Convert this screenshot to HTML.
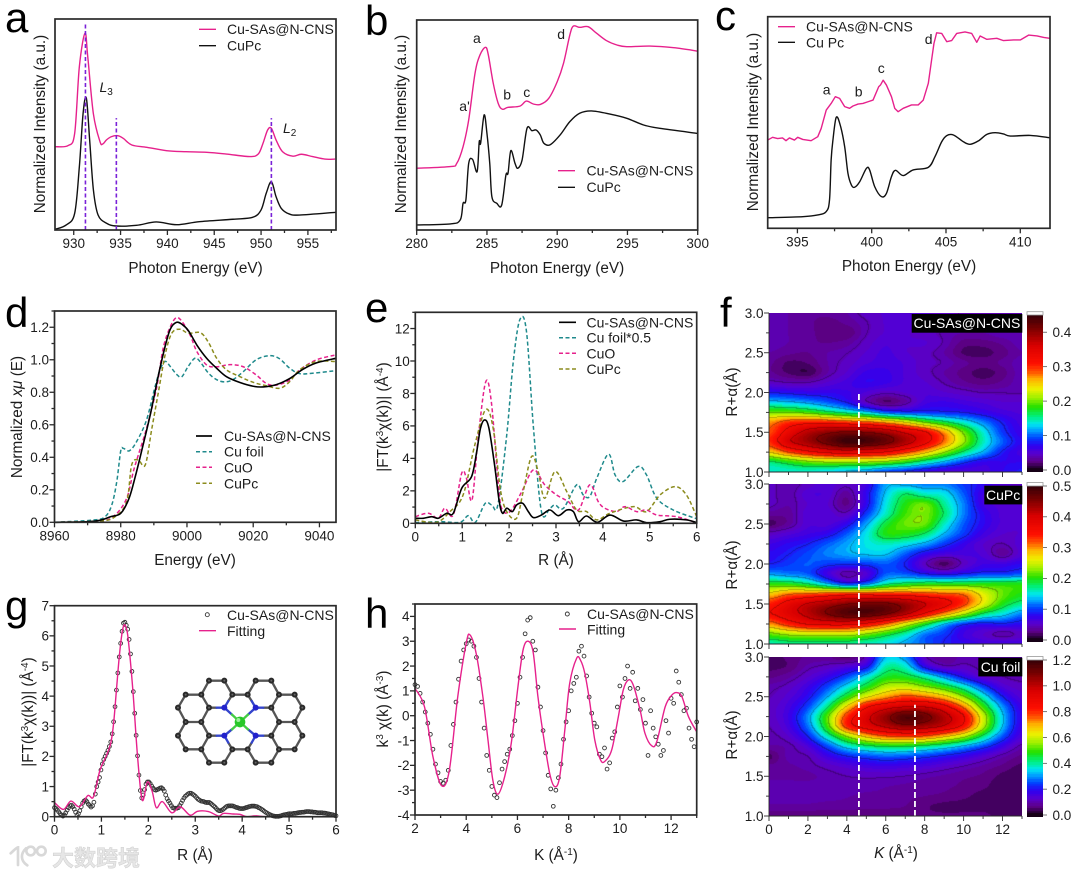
<!DOCTYPE html>
<html lang="en">
<head>
<meta charset="utf-8">
<title>Spectroscopy figure</title>
<style>
html,body{margin:0;padding:0;background:#fff}
#stage{position:relative;width:1080px;height:877px;overflow:hidden;background:#fff}
#stage canvas{position:absolute;display:block}
#figure{position:absolute;left:0;top:0}
text{font-family:"Liberation Sans","Noto Sans CJK SC",sans-serif;fill:#1c1c1c}
.tick{font-size:13.5px}
.title{font-size:15.3px}
.leg{font-size:14px}
.note{font-size:14px}
.big{font-size:42px;fill:#000}
</style>
</head>
<body>
<div id="stage">
<canvas id="hm1" width="253" height="159" style="left:769px;top:313px"></canvas>
<canvas id="hm2" width="253" height="160" style="left:769px;top:484px"></canvas>
<canvas id="hm3" width="253" height="159" style="left:769px;top:657px"></canvas>
<canvas id="cb1" width="16" height="157" style="left:1027px;top:315px"></canvas>
<canvas id="cb2" width="16" height="156" style="left:1027px;top:486px"></canvas>
<canvas id="cb3" width="16" height="157" style="left:1027px;top:660px"></canvas>
<svg id="figure" width="1080" height="877" viewBox="0 0 1080 877" xmlns="http://www.w3.org/2000/svg">

<!-- panel letters -->
<text class="big" x="5" y="32">a</text>
<text class="big" x="365" y="35">b</text>
<text class="big" x="715" y="30">c</text>
<text class="big" x="5" y="327">d</text>
<text class="big" x="365" y="322">e</text>
<text class="big" x="720" y="327">f</text>
<text class="big" x="5" y="620">g</text>
<text class="big" x="365" y="628">h</text>

<!-- axis titles -->
<text class="title" x="195.5" y="273" text-anchor="middle">Photon Energy (eV)</text>
<text class="title" x="557" y="273" text-anchor="middle">Photon Energy (eV)</text>
<text class="title" x="909" y="271" text-anchor="middle">Photon Energy (eV)</text>
<text class="title" x="195" y="565" text-anchor="middle">Energy (eV)</text>
<text class="title" x="556" y="565" text-anchor="middle">R (Å)</text>
<text class="title" x="195" y="860" text-anchor="middle">R (Å)</text>
<text class="title" x="556" y="860" text-anchor="middle">K (Å<tspan dy="-5" font-size="10">-1</tspan><tspan dy="5">)</tspan></text>
<text class="title" x="896" y="858" text-anchor="middle"><tspan font-style="italic">K</tspan> (Å<tspan dy="-5" font-size="10">-1</tspan><tspan dy="5">)</tspan></text>

<text class="title" transform="translate(45,124) rotate(-90)" text-anchor="middle">Normalized Intensity (a.u.)</text>
<text class="title" transform="translate(406,124) rotate(-90)" text-anchor="middle">Normalized Intensity (a.u.)</text>
<text class="title" transform="translate(758,122) rotate(-90)" text-anchor="middle">Normalized Intensity (a.u.)</text>
<text class="title" transform="translate(22,417) rotate(-90)" text-anchor="middle">Normalized <tspan font-style="italic">xμ</tspan> (E)</text>
<text class="title" transform="translate(388,417) rotate(-90)" text-anchor="middle">|FT(k<tspan dy="-5" font-size="10">3</tspan><tspan dy="5">χ(k))| (Å</tspan><tspan dy="-5" font-size="10">-4</tspan><tspan dy="5">)</tspan></text>
<text class="title" transform="translate(33,712) rotate(-90)" text-anchor="middle">|FT(k<tspan dy="-5" font-size="10">3</tspan><tspan dy="5">χ(k))| (Å</tspan><tspan dy="-5" font-size="10">-4</tspan><tspan dy="5">)</tspan></text>
<text class="title" transform="translate(388,709) rotate(-90)" text-anchor="middle">k<tspan dy="-5" font-size="10">3</tspan><tspan dy="5"> χ(k) (Å</tspan><tspan dy="-5" font-size="10">-3</tspan><tspan dy="5">)</tspan></text>
<text class="title" transform="translate(737,392) rotate(-90)" text-anchor="middle">R+α(Å)</text>
<text class="title" transform="translate(737,565) rotate(-90)" text-anchor="middle">R+α(Å)</text>
<text class="title" transform="translate(737,735) rotate(-90)" text-anchor="middle">R+α(Å)</text>

<!-- legends -->
<g>
<line x1="199" x2="216" y1="29.3" y2="29.3" stroke="#e6218c" stroke-width="1.4"/><text class="leg" x="227" y="34">Cu-SAs@N-CNS</text>
<line x1="199" x2="216" y1="45.7" y2="45.7" stroke="#111" stroke-width="1.4"/><text class="leg" x="227" y="50.5">CuPc</text>
</g>
<g>
<line x1="558" x2="575" y1="170.7" y2="170.7" stroke="#e6218c" stroke-width="1.4"/><text class="leg" x="586.5" y="175.5">Cu-SAs@N-CNS</text>
<line x1="558" x2="575" y1="187.3" y2="187.3" stroke="#111" stroke-width="1.4"/><text class="leg" x="586.5" y="192">CuPc</text>
</g>
<g>
<line x1="778" x2="795" y1="26.7" y2="26.7" stroke="#e6218c" stroke-width="1.4"/><text class="leg" x="806" y="31.5">Cu-SAs@N-CNS</text>
<line x1="778" x2="795" y1="42.3" y2="42.3" stroke="#111" stroke-width="1.4"/><text class="leg" x="806" y="47.5">Cu Pc</text>
</g>
<g>
<line x1="196" x2="212" y1="436" y2="436" stroke="#000" stroke-width="1.7"/><text class="leg" x="224" y="441">Cu-SAs@N-CNS</text>
<line x1="196" x2="212" y1="451.7" y2="451.7" stroke="#1f8a8c" stroke-width="1.5" stroke-dasharray="4 2.5"/><text class="leg" x="224" y="456.7">Cu foil</text>
<line x1="196" x2="212" y1="467.3" y2="467.3" stroke="#e6218c" stroke-width="1.5" stroke-dasharray="4 2.5"/><text class="leg" x="224" y="472.3">CuO</text>
<line x1="196" x2="212" y1="483.3" y2="483.3" stroke="#8c8c1e" stroke-width="1.5" stroke-dasharray="4 2.5"/><text class="leg" x="224" y="488.3">CuPc</text>
</g>
<g>
<line x1="559" x2="576" y1="322.3" y2="322.3" stroke="#000" stroke-width="1.7"/><text class="leg" x="586.5" y="327.3">Cu-SAs@N-CNS</text>
<line x1="559" x2="576" y1="337.7" y2="337.7" stroke="#1f8a8c" stroke-width="1.5" stroke-dasharray="4 2.5"/><text class="leg" x="586.5" y="342.7">Cu foil*0.5</text>
<line x1="559" x2="576" y1="353.3" y2="353.3" stroke="#e6218c" stroke-width="1.5" stroke-dasharray="4 2.5"/><text class="leg" x="586.5" y="358.3">CuO</text>
<line x1="559" x2="576" y1="369" y2="369" stroke="#8c8c1e" stroke-width="1.5" stroke-dasharray="4 2.5"/><text class="leg" x="586.5" y="374">CuPc</text>
</g>
<g>
<circle cx="207.3" cy="614.7" r="2" fill="none" stroke="#333" stroke-width=".9"/><text class="leg" x="227" y="620">Cu-SAs@N-CNS</text>
<line x1="199" x2="216" y1="630.7" y2="630.7" stroke="#e6218c" stroke-width="1.4"/><text class="leg" x="227" y="636">Fitting</text>
</g>
<g>
<circle cx="567.3" cy="614" r="2" fill="none" stroke="#333" stroke-width=".9"/><text class="leg" x="587" y="619">Cu-SAs@N-CNS</text>
<line x1="559" x2="576" y1="629" y2="629" stroke="#e6218c" stroke-width="1.4"/><text class="leg" x="587" y="634.5">Fitting</text>
</g>

<!-- peak annotations -->
<text class="note" x="99.5" y="92"><tspan font-style="italic">L</tspan><tspan dy="3" font-size="10">3</tspan></text>
<text class="note" x="283" y="133"><tspan font-style="italic">L</tspan><tspan dy="3" font-size="10">2</tspan></text>
<g>
<text class="note" x="473" y="43">a</text><text class="note" x="459.3" y="111">a'</text><text class="note" x="503.3" y="99.3">b</text><text class="note" x="523.3" y="97">c</text><text class="note" x="557.3" y="39">d</text>
</g>
<g>
<text class="note" x="822.7" y="94.3">a</text><text class="note" x="854.7" y="96.7">b</text><text class="note" x="877.7" y="73">c</text><text class="note" x="924.7" y="44">d</text>
</g>

<!-- molecule inset -->
<g transform="translate(0,590) scale(.33333)" fill="none" stroke-linecap="round">
<path stroke="#555" stroke-width="7" d="M627 272H673M627 272L604 314M673 272L697 314M604 314H557M557 314L534 353M534 353L557 396M557 396H604M604 396L627 353M604 314L627 353M697 314H743M743 314L767 272M767 272H814M814 272L837 314M837 314H884M884 314L907 353M907 353L884 396M884 396H837M837 396L814 353M837 314L814 353M627 518H673M627 518L604 478M673 518L697 478M604 478H557M557 478L534 437M534 437L557 396M604 396L627 437M604 478L627 437M697 478H743M743 478L767 518M767 518H814M814 518L837 478M837 478H884M884 478L907 437M907 437L884 396M837 396L814 437M837 478L814 437M627 353H650M685 333L697 314M814 353H790M755 333L743 314M627 437H650M685 458L697 478M814 437H790M755 458L743 478"/>
<path stroke="#3344cc" stroke-width="7" d="M650 353H673L685 333M790 353H767L755 333M650 437H673L685 458M790 437H767L755 458M673 353L696 374M767 353L744 374M673 437L696 418M767 437L744 418"/>
<path stroke="#44cc44" stroke-width="7" d="M696 374L720 396L744 374M696 418L720 396L744 418"/>
<path stroke="#2a2a2a" stroke-width="18" d="M627 272h0M673 272h0M767 272h0M814 272h0M557 314h0M604 314h0M697 314h0M743 314h0M837 314h0M884 314h0M534 353h0M627 353h0M814 353h0M907 353h0M557 396h0M604 396h0M837 396h0M884 396h0M534 437h0M627 437h0M814 437h0M907 437h0M557 478h0M604 478h0M697 478h0M743 478h0M837 478h0M884 478h0M627 518h0M673 518h0M767 518h0M814 518h0"/>
<path stroke="#666" stroke-width="6" d="M627 272h0M673 272h0M767 272h0M814 272h0M557 314h0M604 314h0M697 314h0M743 314h0M837 314h0M884 314h0M534 353h0M627 353h0M814 353h0M907 353h0M557 396h0M604 396h0M837 396h0M884 396h0M534 437h0M627 437h0M814 437h0M907 437h0M557 478h0M604 478h0M697 478h0M743 478h0M837 478h0M884 478h0M627 518h0M673 518h0M767 518h0M814 518h0"/>
<path stroke="#2222cc" stroke-width="18" d="M673 353h0M767 353h0M673 437h0M767 437h0"/>
<circle cx="720" cy="396" r="16" fill="#28c828" stroke="none"/><circle cx="715" cy="390" r="6" fill="#9ef09e" stroke="none"/>
</g>

<!-- watermark -->
<g>
<g transform="translate(0,590) scale(.33333)" fill="none" stroke="#d8d8d8" stroke-width="8" stroke-linecap="round">
<path d="M32 790C45 778 50 772 54 772V825M78 775C62 790 60 812 82 826"/>
<circle cx="92" cy="783" r="13"/><circle cx="124" cy="783" r="13"/>
</g>
<text x="52" y="866" font-size="22" font-weight="700" style="fill:#e6e6e6;stroke:#cfcfcf;stroke-width:.5">大数跨境</text>
</g>
</svg>
</div>

<script>
// ---------- panel a ----------
const aPinkEnergy=[928,929.4,930.1,930.6,931.2,931.5,932.1,932.8,933.1,933.5,934,934.7,935.3,936.2,937.8,939.9,942,944.2,946.3,948.8,949.7,950.2,950.7,951.1,951.6,952.3,953.4,954.3,955.5,956.8,957.9];
const aPinkIntensity=[39.5,40,45.8,77.4,93.2,82,55,41.9,40.8,42.7,44.2,44.7,43.4,40.3,39.2,37.6,37.1,36.8,36,34.8,36,41,47.4,48.2,42.7,37.1,35,35.9,34.8,33.6,33.6];
const aBlackEnergy=[928,929.2,930.1,930.6,931,931.35,931.7,932.1,932.6,933.5,934.55,936.7,938.8,941,943.4,947,949.1,950,950.55,951.1,951.6,952.15,953,954.1,958];
const aBlackIntensity=[.3,2.4,7.9,30,55.3,62.4,42.6,19,7.1,3.2,1.9,2.2,3.8,2.5,3.95,5.1,6,9.5,17.4,22.9,15.8,10.3,7.6,7.1,8.4];
const aXTicks=[930,935,940,945,950,955];
const aXLabels=['930','935','940','945','950','955'];
// ---------- panel b ----------
const bPinkEnergy=[280,282.4,282.85,283.3,283.7,284.15,284.5,284.9,285.1,285.45,285.8,286.1,286.5,287.35,287.8,288.3,288.8,289.4,290,290.45,290.9,291.15,291.6,292.2,292.8,293.5,294.25,294.95,296.6,298.3,300];
const bPinkIntensity=[29.4,30.2,31.7,39.7,52.4,74.6,83.3,87,83.3,69.8,60.3,57.5,58.4,59,61.4,60,59.8,62.7,70.6,79.4,92.9,97.1,96.5,96.8,93.7,90.2,88.1,87.3,87.6,86.8,85.2];
const bBlackEnergy=[280,282.4,283.1,283.3,283.5,283.7,283.98,284.3,284.45,284.55,284.8,285,285.2,285.35,285.7,286.05,286.35,286.5,286.7,287,287.2,287.5,287.85,288.2,288.5,288.8,289.05,289.5,290.2,290.9,291.6,292.45,293.75,294.95,296.15,297.3,300];
const bBlackIntensity=[2.4,2.9,4.8,12.7,14.3,31.7,33.6,27.8,42,41.3,54.8,46,31.7,15.9,12.7,11.9,26.2,27,37.8,31.7,29.4,33.3,48.4,47.3,47.6,45.2,41.3,40.6,45.2,51.6,55.6,56.7,55.2,53.2,50,48.4,46];
const bXTicks=[280,285,290,295,300];
const bXLabels=['280','285','290','295','300'];
// ---------- panel c ----------
const cPinkEnergy=[393,393.33,393.67,394,394.23,394.46,394.8,395.02,395.36,395.92,396.37,396.6,396.94,397.27,397.55,397.84,398.18,398.51,398.74,399.08,399.41,399.75,400.09,400.47,400.59,400.77,400.99,401.33,401.55,401.78,402.12,402.68,403.13,403.47,403.81,404.03,404.19,404.37,404.71,405.05,405.38,405.72,406.28,406.73,407.07,407.3,407.75,408.42,408.87,409.55,410,410.56,411.13,411.58,411.98];
const cPinkIntensity=[41.7,43,42.4,42.7,41.4,42.7,41.7,43,42,41.4,43.3,47.2,55.9,59,62.2,61.4,57.5,56.7,57.8,58.7,59,59.8,60.6,66.9,67.7,70,67.7,62.2,56.7,55.1,56.7,58.3,58.3,60.6,68.5,79.5,87.4,92.4,92.1,88.2,88.7,92.1,92.8,92.1,87.9,90.9,89.3,89.8,88.7,89,89,91.3,90.9,90.2,89.8];
const cBlackEnergy=[393,395.36,396.37,396.94,397.16,397.27,397.39,397.61,397.88,398.18,398.4,398.63,398.85,399.19,399.64,399.86,400.2,400.65,400.99,401.33,401.6,402.12,402.79,403.81,404.26,404.71,405.05,405.5,406.17,406.62,407.18,407.75,408.31,408.87,409.32,410.68,411.98];
const cBlackIntensity=[5,5.5,6.3,7.9,13.4,32.3,41.7,52.4,48.8,38.6,26,20.5,19.4,22,28.3,27.6,19.7,15,16.5,24.4,27.4,24.9,27.6,28.8,33.9,40.9,43.8,44.1,40.9,39.7,41.3,44.4,45.2,44.6,43.6,43.9,42.8];
const cXTicks=[395,400,405,410];
const cXLabels=['395','400','405','410'];
// ---------- panel d ----------
const dSasEnergy=[8960,8970,8974,8977,8980,8982.5,8984.5,8986.5,8989,8991.5,8993.5,8995,8996.8,8998.5,9000.5,9003,9006,9009,9012,9016,9020,9023,9027,9031,9035,9039,9045];
const dSasMu=[0,.004,.014,.035,.055,.147,.29,.455,.67,.916,1.09,1.19,1.23,1.218,1.177,1.09,1.008,.947,.895,.86,.837,.833,.847,.884,.941,.98,1.009];
const dFoilEnergy=[8960,8971.8,8975.3,8977.3,8978.8,8980,8980.8,8982.6,8984.8,8987.8,8990.4,8991.9,8993.4,8994.9,8996.9,8998.4,9000.4,9002.4,9003.9,9006.4,9008.9,9011.4,9013.9,9016.9,9020.9,9024.9,9027.9,9030.9,9033.9,9037.9,9045];
const dFoilMu=[0,.014,.035,.107,.25,.44,.455,.44,.497,.63,.837,.94,.99,.96,.91,.895,.96,1.01,.99,.92,.878,.864,.878,.925,1,1.025,1.007,.95,.915,.917,.933];
const dCuoEnergy=[8960,8973.8,8978.3,8981.8,8983.8,8985.3,8987.8,8990.8,8992.8,8994.9,8996.9,8998.9,9001,9003,9006,9009,9013,9017,9021,9024,9027,9031,9034,9039,9045];
const dCuoMu=[0,.008,.045,.148,.312,.414,.578,.824,1.07,1.2,1.26,1.224,1.15,1.05,.967,.957,.97,.957,.905,.854,.844,.875,.937,.999,1.03];
const dCupcEnergy=[8960,8973.8,8978.3,8981.8,8983.3,8985.3,8987.4,8989.4,8991.4,8993.4,8995.4,8997.9,9000.4,9004,9006.4,9009,9012,9016,9020,9024,9028,9031,9034,9039,9045];
const dCupcMu=[0,.008,.035,.127,.353,.384,.353,.578,.804,1.03,1.163,1.188,1.163,1.167,1.11,1.008,.937,.896,.861,.84,.825,.865,.937,.989,.989];
const dXTicks=[8960,8980,9000,9020,9040];
const dXLabels=['8960','8980','9000','9020','9040'];
const dYTicks=[0,.2,.4,.6,.8,1,1.2];
const dYLabels=['0.0','0.2','0.4','0.6','0.8','1.0','1.2'];
// ---------- panel e ----------
const eSasR=[0,.17,.35,.49,.67,.81,.99,1.2,1.31,1.39,1.48,1.57,1.69,1.79,1.86,1.95,2.07,2.16,2.29,2.41,2.52,2.69,2.87,3.05,3.23,3.37,3.48,3.65,3.88,4.15,4.44,4.72,4.93,5.22,5.43,5.78,6];
const eSasFt=[.31,.31,.41,.31,.62,.62,2.16,2.88,4.42,5.86,6.37,5.86,3.6,1.34,.62,.93,.72,1.13,1.23,.72,.35,.51,.82,.47,.82,.72,.1,.45,.06,.51,.14,.21,.04,.1,.25,.21,.04];
const eFoilR=[0,.53,.95,1.13,1.28,1.49,1.63,1.76,1.95,2.09,2.23,2.37,2.52,2.69,2.87,2.98,3.16,3.44,3.58,3.72,3.87,4.12,4.26,4.43,4.75,4.93,5.15,5.5,5.93,6];
const eFoilFt=[.04,.1,.06,.47,.06,1.23,1.13,1.13,5.45,9.98,12.55,11.83,5.86,.72,.93,1.13,.93,2.37,1.75,1.65,2.78,4.26,2.98,2.57,3.5,2.98,1.54,.82,.35,.3];
const eCuoR=[0,.28,.49,.63,.81,.99,1.09,1.21,1.34,1.5,1.62,1.76,1.84,2.02,2.27,2.52,2.76,3.01,3.26,3.48,3.72,3.9,4.04,4.29,4.47,4.72,4.93,5.15,5.57,5.93,6];
const eCuoFt=[.41,.62,.31,.93,.51,3.09,2.78,1.44,5.25,8.7,7.51,2.78,.93,.72,1.95,3.29,2.37,1.75,1.34,.82,2.37,1.34,.93,.72,1.03,.72,.82,.51,.41,.1,.1];
const eCupcR=[0,.45,.74,1.02,1.27,1.5,1.66,1.81,1.95,2.16,2.3,2.48,2.62,2.76,2.98,3.23,3.44,3.65,3.87,4.15,4.65,4.93,5.22,5.54,5.78,6];
const eCupcFt=[.21,.06,.72,1.75,4.84,7,5.86,2.16,.72,.31,1.95,4.12,3.19,1.54,3.19,1.95,.82,.72,.21,.62,1.03,.72,1.75,2.26,1.75,.41];
const eXTicks=[0,1,2,3,4,5,6];
const eXLabels=['0','1','2','3','4','5','6'];
const eYTicks=[0,2,4,6,8,10,12];
const eYLabels=['0','2','4','6','8','10','12'];
// ---------- panel f ----------
const fK=[0,1,2,3,4,5,6,7,8,9,10,11,12,13];
const fR=[3,2.875,2.75,2.625,2.5,2.375,2.25,2.125,2,1.875,1.75,1.625,1.5,1.375,1.25,1.125,1];
const fSasValues=[
[.04,.035,.03,.03,.035,.045,.05,.05,.05,.045,.04,.04,.04,.04],
[.04,.035,.03,.025,.03,.04,.05,.05,.05,.045,.04,.035,.035,.04],
[.04,.035,.03,.025,.022,.04,.05,.05,.045,.04,.035,.035,.04,.04],
[.04,.035,.03,.028,.032,.045,.055,.05,.05,.04,.025,.025,.03,.04],
[.035,.03,.028,.035,.04,.05,.058,.05,.045,.035,.02,.018,.025,.035],
[.03,.02,.022,.035,.045,.055,.06,.055,.045,.04,.03,.025,.03,.04],
[.03,.02,.015,.035,.05,.065,.065,.055,.045,.035,.025,.018,.025,.04],
[.045,.04,.04,.05,.06,.07,.065,.055,.05,.04,.03,.025,.03,.04],
[.08,.075,.07,.07,.065,.055,.045,.05,.055,.05,.045,.04,.04,.04],
[.13,.125,.115,.1,.08,.045,.022,.035,.06,.065,.06,.055,.05,.05],
[.2,.2,.19,.17,.15,.13,.1,.09,.09,.085,.08,.07,.06,.055],
[.27,.3,.31,.31,.3,.29,.27,.24,.2,.17,.14,.11,.08,.06],
[.29,.34,.38,.4,.41,.405,.39,.36,.33,.27,.2,.14,.09,.065],
[.3,.36,.39,.42,.445,.44,.42,.385,.34,.28,.21,.145,.1,.07],
[.25,.29,.32,.34,.35,.34,.33,.3,.26,.21,.16,.12,.08,.06],
[.16,.18,.2,.21,.21,.21,.2,.18,.15,.12,.09,.07,.07,.07],
[.14,.14,.14,.13,.12,.11,.09,.08,.065,.055,.055,.06,.07,.08]];
const fCupcValues=[
[.05,.04,.05,.06,.05,.07,.13,.13,.12,.12,.1,.08,.06,.05],
[.05,.04,.06,.06,.035,.08,.14,.18,.16,.15,.11,.07,.06,.05],
[.05,.04,.055,.055,.03,.08,.15,.2,.22,.17,.12,.07,.06,.055],
[.035,.035,.06,.06,.05,.1,.16,.21,.225,.18,.12,.08,.06,.055],
[.02,.035,.06,.06,.08,.13,.19,.22,.22,.16,.11,.08,.06,.055],
[.05,.06,.07,.08,.11,.15,.2,.2,.18,.135,.1,.07,.055,.055],
[.07,.08,.09,.11,.13,.15,.16,.15,.13,.1,.075,.055,.045,.06],
[.08,.09,.105,.12,.13,.14,.14,.11,.08,.065,.065,.06,.035,.06],
[.09,.1,.11,.1,.095,.1,.11,.09,.05,.02,.05,.07,.07,.08],
[.13,.12,.11,.07,.04,.06,.11,.11,.09,.08,.09,.1,.1,.11],
[.2,.2,.18,.14,.1,.12,.17,.19,.2,.2,.2,.2,.2,.2],
[.28,.31,.32,.33,.34,.34,.34,.34,.33,.32,.31,.26,.22,.2],
[.34,.38,.41,.43,.45,.46,.46,.44,.41,.38,.33,.26,.2,.17],
[.36,.39,.42,.455,.48,.48,.46,.42,.36,.3,.24,.18,.15,.12],
[.3,.34,.37,.38,.38,.36,.32,.26,.2,.14,.1,.085,.09,.08],
[.22,.24,.25,.25,.25,.23,.2,.165,.12,.1,.07,.055,.04,.05],
[.16,.17,.17,.17,.17,.16,.15,.13,.11,.09,.08,.07,.07,.07]];
const fFoilValues=[
[.05,.06,.08,.08,.05,.12,.33,.3,.12,.08,.1,.1,.1,.1],
[.05,.06,.1,.12,.15,.2,.4,.38,.2,.12,.12,.1,.1,.1],
[.07,.09,.13,.18,.25,.36,.47,.47,.4,.3,.2,.13,.11,.1],
[.1,.12,.17,.25,.36,.47,.58,.6,.55,.48,.38,.25,.15,.12],
[.11,.14,.2,.32,.48,.63,.72,.78,.75,.68,.55,.38,.22,.14],
[.12,.16,.25,.42,.66,.85,.93,.97,.97,.9,.74,.5,.3,.17],
[.12,.17,.3,.52,.8,.95,1.06,1.16,1.12,1.02,.88,.6,.34,.18],
[.11,.16,.28,.5,.8,.92,1,1.06,1.03,.97,.84,.58,.33,.17],
[.1,.13,.22,.38,.55,.68,.76,.78,.76,.68,.58,.42,.26,.15],
[.09,.1,.15,.25,.36,.42,.45,.45,.42,.38,.32,.25,.17,.1],
[.05,.1,.11,.17,.22,.25,.27,.26,.24,.21,.18,.14,.1,.07],
[.08,.09,.1,.12,.14,.16,.17,.16,.15,.13,.11,.09,.07,.05],
[.09,.09,.09,.1,.11,.115,.115,.11,.1,.09,.08,.07,.05,.04],
[.1,.1,.1,.1,.1,.1,.095,.09,.085,.08,.07,.06,.045,.04],
[.1,.1,.1,.1,.095,.09,.09,.08,.075,.07,.06,.05,.05,.045],
[.09,.09,.09,.085,.085,.08,.08,.075,.06,.05,.05,.05,.05,.05],
[.06,.06,.06,.06,.06,.06,.06,.06,.06,.06,.06,.06,.05,.05]];
const fXTicks=[0,2,4,6,8,10,12];
const fXLabels=['0','2','4','6','8','10','12'];
const fYTicks=[1,1.5,2,2.5,3];
const fYLabels=['1.0','1.5','2.0','2.5','3.0'];
const fSasBarTicks=[0,.1,.2,.3,.4];
const fSasBarLabels=['0.0','0.1','0.2','0.3','0.4'];
const fCupcBarTicks=[0,.1,.2,.3,.4,.5];
const fCupcBarLabels=['0.0','0.1','0.2','0.3','0.4','0.5'];
const fFoilBarTicks=[0,.2,.4,.6,.8,1,1.2];
const fFoilBarLabels=['0.0','0.2','0.4','0.6','0.8','1.0','1.2'];
// ---------- panel g ----------
const gFitR=[0,.19,.35,.53,.71,.83,.97,1.1,1.2,1.26,1.32,1.38,1.44,1.48,1.52,1.57,1.67,1.77,1.87,1.98,2.08,2.17,2.3,2.5,2.68,2.89,3.05,3.28,3.5,3.6,3.81,3.95,4.1,4.3,4.6,6];
const gFitFt=[.47,.24,.52,.33,.7,.66,1.55,2,2.45,3.1,4.2,5.3,6.1,6.35,6.3,5.9,4.2,2,.55,1.15,.85,.3,.5,.13,.33,.05,.18,.17,.02,.11,.09,.08,0,.03,0,0];
const gDataStep=.03;
const gDataFt=[.3,.27,.22,.16,.1,.05,.02,.06,.13,.22,.3,.36,.38,.33,.25,.15,.05,.1,.2,.33,.45,.52,.55,.5,.42,.37,.32,.36,.48,.75,1,1.15,1.3,1.55,1.75,1.9,2,2.1,2.2,2.33,2.48,2.75,3.15,3.65,4.2,4.77,5.3,5.75,6.15,6.42,6.45,6.35,6.22,5.88,5.4,4.82,4.15,3.43,2.7,2.02,1.38,.87,.62,.72,.9,1.08,1.15,1.15,1.1,1.02,.95,.9,.88,.9,.92,.95,.96,.92,.85,.72,.6,.52,.45,.37,.3,.28,.28,.28,.3,.37,.45,.54,.62,.68,.72,.76,.78,.78,.75,.72,.68,.63,.58,.55,.52,.51,.5,.48,.47,.47,.47,.44,.4,.36,.32,.27,.22,.2,.2,.22,.25,.29,.33,.35,.36,.36,.36,.35,.33,.31,.3,.28,.27,.27,.27,.28,.3,.31,.33,.34,.35,.35,.35,.34,.33,.3,.28,.25,.22,.18,.15,.12,.09,.07,.05,.03,.02,.01,.01,.01,.02,.03,.05,.06,.07,.08,.09,.1,.1,.1,.11,.11,.12,.13,.14,.14,.15,.15,.16,.17,.17,.17,.16,.16,.15,.15,.14,.13,.13,.13,.13,.12,.12,.11,.1,.09,.08,.07,.06,.04,.03];
const gXTicks=[0,1,2,3,4,5,6];
const gXLabels=['0','1','2','3','4','5','6'];
const gYTicks=[0,1,2,3,4,5,6,7];
const gYLabels=['0','1','2','3','4','5','6','7'];
// ---------- panel h ----------
const hFitK=[2,2.37,2.7,3.04,3.34,3.67,4,4.15,4.39,4.65,4.85,5.04,5.24,5.5,5.76,6.02,6.22,6.41,6.61,6.8,7,7.26,7.46,7.65,7.85,8.04,8.31,8.46,8.63,8.83,9.02,9.25,9.42,9.68,9.94,10.13,10.33,10.52,10.79,10.98,11.24,11.44,11.77,12.03,12.22,12.42,12.68,13];
const hFitChi=[1.1,.36,-1.65,-2.82,-2.2,.77,2.92,3.25,2.5,.77,-.98,-2.6,-3.16,-2.46,-1.1,1.17,2.65,3,2.58,.77,-.71,-2.33,-2.86,-2.46,-.58,1.3,2.31,2.24,1.71,.5,-.98,-1.79,-1.83,-1.38,-.04,1.03,1.44,1.24,.23,-.71,-1.21,-1.05,.36,.83,.93,.77,-.04,-.65];
const hDataStart=2;
const hDataStep=.1;
const hDataChi=[1.25,1.18,.9,.55,.15,-.3,-.75,-1.35,-1.95,-2.3,-2.65,-2.72,-2.6,-2.2,-1.2,-.35,.55,1.47,2.2,2.65,2.9,3.05,3,2.8,2.35,1.5,.55,-.5,-1.6,-2.2,-2.85,-3.2,-3.3,-2.7,-2.15,-1.85,-1.55,-1.35,-.8,-.2,.5,1.55,2.35,3.3,3.85,3.95,3,2.65,1.15,.35,-.6,-1.5,-2.4,-2.95,-3.65,-3,-2.5,-1.95,-.95,-.25,.2,1,1.3,1.55,2.6,2.8,2.4,1.6,.75,.1,-.3,-.45,-1.55,-1.65,-1.3,-2.15,-1.9,-.9,-.65,.35,1.2,.75,1.5,2,1.1,1.75,.6,1.1,.25,.65,-.3,-1.6,.2,-.5,-.85,-1.15,-1.6,-1.4,-.2,-.7,.7,.5,1.8,1.35,.85,.2,.3,-.5,-.95,-1.25,-.25];
const hXTicks=[2,4,6,8,10,12];
const hXLabels=['2','4','6','8','10','12'];
const hYTicks=[-4,-3,-2,-1,0,1,2,3,4];
const hYLabels=['-4','-3','-2','-1','0','1','2','3','4'];

// reference-line positions in data units
const aMarkerEnergies=[931.25,934.55,951.1];
const aMarkerTops=[98,53,53];
const fMarkerK=4.62;
const fMarkerK2=7.5;

// ---------- helpers ----------
const NS='http://www.w3.org/2000/svg';
const svg=document.getElementById('figure');
const PINK='#e6218c',BLACK='#111',TEAL='#1f8a8c',OLIVE='#8c8c1e';

function el(tag,attrs,parent){
  const n=document.createElementNS(NS,tag);
  for(const k in attrs)n.setAttribute(k,attrs[k]);
  (parent||svg).appendChild(n);
  return n;
}
function scales(p){
  p.sx=v=>p.L+(v-p.xMin)/(p.xMax-p.xMin)*(p.R-p.L);
  p.sy=v=>p.B-(v-p.yMin)/(p.yMax-p.yMin)*(p.B-p.T);
  return p;
}
function minorList(min,max,step,majors){
  const out=[];
  for(let i=Math.ceil(min/step-1e-6);i*step<=max+1e-6;i++){
    const v=i*step;
    if(!majors.some(m=>Math.abs(m-v)<1e-6))out.push(v);
  }
  return out;
}
function axes(p){
  const g=el('g',{stroke:'#2a2a2a','stroke-width':p.frameW||1.3,fill:'none'});
  
  
  if(p.noBox){
    el('path',{d:`M${p.L} ${p.T}V${p.B}H${p.R}`},g);
  }else{
    el('rect',{x:p.L,y:p.T,width:p.R-p.L,height:p.B-p.T,'stroke-width':1.7},g);
  }
  (p.xTicks||[]).forEach((v,i)=>{
    el('line',{x1:p.sx(v),x2:p.sx(v),y1:p.B,y2:p.B+5},g);
    if(p.xLabels&&p.xLabels[i]!==undefined){
      const t=el('text',{x:p.sx(v),y:p.B+18,'text-anchor':'middle',class:'tick',stroke:'none'},g);
      t.textContent=p.xLabels[i];
      
      
    }
  });
  if(p.xMinor)minorList(p.xMin,p.xMax,p.xMinor,p.xTicks).forEach(v=>{
    el('line',{x1:p.sx(v),x2:p.sx(v),y1:p.B,y2:p.B+3},g);
  });
  (p.yTicks||[]).forEach((v,i)=>{
    el('line',{x1:p.L-5,x2:p.L,y1:p.sy(v),y2:p.sy(v)},g);
    const t=el('text',{x:p.L-5.5,y:p.sy(v)+4.8,'text-anchor':'end',class:'tick',stroke:'none'},g);
    t.textContent=p.yLabels[i];
    
    
  });
  if(p.yMinor)minorList(p.yMin,p.yMax,p.yMinor,p.yTicks).forEach(v=>{
    el('line',{x1:p.L-3,x2:p.L,y1:p.sy(v),y2:p.sy(v)},g);
  });
}
function curve(p,xs,ys,color,name,opt){
  opt=opt||{};
  const pts=xs.map((x,i)=>[p.sx(x),p.sy(ys[i])]);
  let d='M'+pts[0][0].toFixed(2)+' '+pts[0][1].toFixed(2);
  for(let i=0;i<pts.length-1;i++){
    const a=pts[Math.max(i-1,0)],b=pts[i],c=pts[i+1],e=pts[Math.min(i+2,pts.length-1)];
    if(opt.linear){d+=`L${c[0].toFixed(2)} ${c[1].toFixed(2)}`;continue;}
    const c1x=b[0]+(c[0]-a[0])/6,c1y=b[1]+(c[1]-a[1])/6;
    const c2x=c[0]-(e[0]-b[0])/6,c2y=c[1]-(e[1]-b[1])/6;
    d+=`C${c1x.toFixed(2)} ${c1y.toFixed(2)} ${c2x.toFixed(2)} ${c2y.toFixed(2)} ${c[0].toFixed(2)} ${c[1].toFixed(2)}`;
  }
  const n=el('path',{d:d,fill:'none',stroke:color,'stroke-width':opt.w||1.4,'stroke-linejoin':'round'});
  if(opt.dash)n.setAttribute('stroke-dasharray',opt.dash);
  
  
  return n;
}
function dots(p,xs,ys,name){
  const g=el('g',{fill:'none',stroke:'#333','stroke-width':.9});
  
  
  ys.forEach((v,i)=>{el('circle',{cx:p.sx(xs[i]),cy:p.sy(v),r:1.9},g);});
}
function vmark(p,xv,y0,y1,color,w,dash,name){
  const n=el('line',{x1:p.sx(xv),x2:p.sx(xv),y1:p.sy(y0),y2:p.sy(y1),stroke:color,'stroke-width':w,'stroke-dasharray':dash});
  
  
}

// ---------- colour map ----------
const cmapT=[0,.02,.05,.07,.1,.15,.2,.25,.29,.34,.4,.46,.52,.58,.63,.68,.8,.9,1];
const cmapRGB=[[22,0,22],[50,0,70],[96,0,138],[92,0,165],[90,0,205],[48,0,240],[0,64,255],[0,160,255],[0,232,240],[0,240,128],[32,224,0],[160,240,0],[240,240,0],[255,176,0],[255,80,0],[255,16,0],[216,0,0],[128,0,0],[48,0,8]];
function cmap(t){
  t=Math.max(0,Math.min(1,t));
  let i=0;
  while(i<cmapT.length-2&&t>cmapT[i+1])i++;
  const f=(t-cmapT[i])/(cmapT[i+1]-cmapT[i]);
  return cmapRGB[i].map((c,j)=>c+(cmapRGB[i+1][j]-c)*f);
}
function cr(a,b,c,d,t){
  return .5*(2*b+(c-a)*t+(2*a-5*b+4*c-d)*t*t+(3*b-a-3*c+d)*t*t*t);
}
function sample(m,row,col){
  const nr=m.length,nc=m[0].length;
  const r0=Math.min(Math.floor(row),nr-2),c0=Math.min(Math.floor(col),nc-2);
  const tr=row-r0,tc=col-c0;
  const rowVals=[];
  for(let i=-1;i<=2;i++){
    const R=m[Math.max(0,Math.min(nr-1,r0+i))];
    rowVals.push(cr(R[Math.max(0,c0-1)],R[c0],R[c0+1],R[Math.min(nc-1,c0+2)],tc));
  }
  return cr(rowVals[0],rowVals[1],rowVals[2],rowVals[3],tr);
}
function drawHeat(id,matrix,vMax){
  const cv=document.getElementById(id),w=cv.width,h=cv.height,ctx=cv.getContext('2d');
  const img=ctx.createImageData(w,h);
  const levels=64,lineStep=vMax/11;
  const kSpan=fK[fK.length-1]-fK[0],rSpan=fR[0]-fR[fR.length-1];
  const val=new Float32Array(w*h);
  for(let y=0;y<h;y++)for(let x=0;x<w;x++){
    const k=(x+.5)/w*kSpan+fK[0];
    const r=fR[0]-(y+.5)/h*rSpan;
    const col=(k-fK[0])/(fK[1]-fK[0]);
    const row=(fR[0]-r)/(fR[0]-fR[1]);
    val[y*w+x]=Math.max(0,sample(matrix,row,col));
  }
  for(let y=0;y<h;y++)for(let x=0;x<w;x++){
    const v=val[y*w+x];
    const t=Math.floor(v/vMax*levels)/levels;
    const c=cmap(t);
    const b=Math.floor(v/lineStep);
    const isLine=(x<w-1&&Math.floor(val[y*w+x+1]/lineStep)!==b)||(y<h-1&&Math.floor(val[(y+1)*w+x]/lineStep)!==b);
    const a=isLine?.74:1;
    const o=(y*w+x)*4;
    img.data[o]=c[0]*a;img.data[o+1]=c[1]*a;img.data[o+2]=c[2]*a;img.data[o+3]=255;
  }
  ctx.putImageData(img,0,0);
}
function drawBar(id,vMax,yZero){
  const cv=document.getElementById(id),ctx=cv.getContext('2d');
  for(let y=0;y<cv.height;y++){
    const v=vMax*(yZero-y)/yZero;
    const c=cmap(Math.floor(v/vMax*64)/64);
    ctx.fillStyle=`rgb(${c[0]|0},${c[1]|0},${c[2]|0})`;
    ctx.fillRect(0,y,cv.width,1);
  }
}
function barAxis(name,topCap,top,yZero,vMax,ticks,labels){
  const g=el('g',{fill:'none',stroke:'#555','stroke-width':.8});
  
  
  el('rect',{x:1027,y:topCap,width:16,height:top-topCap,fill:'#fff',stroke:'#999'},g);
  ticks.forEach((v,i)=>{
    const y=yZero-(v/vMax)*(yZero-top);
    el('line',{x1:1043,x2:1047,y1:y,y2:y},g);
    const t=el('text',{x:1052.5,y:y+4.8,class:'tick',stroke:'none'},g);
    t.textContent=labels[i];
    
    
  });
}

// ---------- build panels ----------
const pa=scales({id:'panel-a',L:55,R:336,T:19,B:230,xMin:928,xMax:958,yMin:0,yMax:100,xTicks:aXTicks,xLabels:aXLabels,xMinor:2.5});
const pb=scales({id:'panel-b',L:416.7,R:697.7,T:20,B:230,xMin:280,xMax:300,yMin:0,yMax:100,xTicks:bXTicks,xLabels:bXLabels,xMinor:2.5});
const pc=scales({id:'panel-c',L:767.7,R:1050,T:16.7,B:228.3,xMin:393,xMax:412,yMin:0,yMax:100,xTicks:cXTicks,xLabels:cXLabels,xMinor:2.5});
const pd=scales({id:'panel-d',L:54.5,R:336,T:311,B:522.3,xMin:8960,xMax:9045,yMin:0,yMax:1.3,xTicks:dXTicks,xLabels:dXLabels,xMinor:10,yTicks:dYTicks,yLabels:dYLabels,yMinor:.1});
const pe=scales({id:'panel-e',L:415.3,R:696.7,T:312.3,B:523.3,xMin:0,xMax:6,yMin:0,yMax:13,xTicks:eXTicks,xLabels:eXLabels,xMinor:.5,yTicks:eYTicks,yLabels:eYLabels,yMinor:1});
const pg=scales({id:'panel-g',L:54.5,R:336,T:605.7,B:816.7,xMin:0,xMax:6,yMin:0,yMax:7,xTicks:gXTicks,xLabels:gXLabels,xMinor:.5,yTicks:gYTicks,yLabels:gYLabels,yMinor:.5});
const ph=scales({id:'panel-h',L:415,R:696.7,T:604,B:815,xMin:2,xMax:13,yMin:-4,yMax:4.5,xTicks:hXTicks,xLabels:hXLabels,xMinor:1,yTicks:hYTicks,yLabels:hYLabels,yMinor:.5});
const pf1=scales({id:'panel-f1',L:769,R:1022,T:313,B:472,xMin:0,xMax:13,yMin:1,yMax:3,xTicks:fXTicks,xMinor:1,yTicks:fYTicks,yLabels:fYLabels,yMinor:.25,noBox:true,frameW:.9});
const pf2=scales({id:'panel-f2',L:769,R:1022,T:484,B:644,xMin:0,xMax:13,yMin:1,yMax:3,xTicks:fXTicks,xMinor:1,yTicks:fYTicks,yLabels:fYLabels,yMinor:.25,noBox:true,frameW:.9});
const pf3=scales({id:'panel-f3',L:769,R:1022,T:657,B:816,xMin:0,xMax:13,yMin:1,yMax:3,xTicks:fXTicks,xLabels:fXLabels,xMinor:1,yTicks:fYTicks,yLabels:fYLabels,yMinor:.25,noBox:true,frameW:.9});

// series
curve(pa,aPinkEnergy,aPinkIntensity,PINK,'series-a-cu-sas');
curve(pa,aBlackEnergy,aBlackIntensity,BLACK,'series-a-cupc');
aMarkerEnergies.forEach((e,i)=>{vmark(pa,e,0,aMarkerTops[i],'#7a22d8',1.6,'4 2.5','marker-a');});

curve(pb,bPinkEnergy,bPinkIntensity,PINK,'series-b-cu-sas');
curve(pb,bBlackEnergy,bBlackIntensity,BLACK,'series-b-cupc');

curve(pc,cPinkEnergy,cPinkIntensity,PINK,'series-c-cu-sas',{linear:true});
curve(pc,cBlackEnergy,cBlackIntensity,BLACK,'series-c-cupc');

curve(pd,dFoilEnergy,dFoilMu,TEAL,'series-d-cu-foil',{dash:'4 2.5',w:1.5});
curve(pd,dCuoEnergy,dCuoMu,PINK,'series-d-cuo',{dash:'4 2.5',w:1.5});
curve(pd,dCupcEnergy,dCupcMu,OLIVE,'series-d-cupc',{dash:'4 2.5',w:1.5});
curve(pd,dSasEnergy,dSasMu,'#000','series-d-cu-sas',{w:1.6});

curve(pe,eFoilR,eFoilFt,TEAL,'series-e-cu-foil',{dash:'4 2.5',w:1.5});
curve(pe,eCuoR,eCuoFt,PINK,'series-e-cuo',{dash:'4 2.5',w:1.5});
curve(pe,eCupcR,eCupcFt,OLIVE,'series-e-cupc',{dash:'4 2.5',w:1.5});
curve(pe,eSasR,eSasFt,'#000','series-e-cu-sas',{w:1.6});

dots(pg,gDataFt.map((_,i)=>i*gDataStep),gDataFt,'series-g-data');
curve(pg,gFitR,gFitFt,PINK,'series-g-fit');

dots(ph,hDataChi.map((_,i)=>hDataStart+i*hDataStep),hDataChi,'series-h-data');
curve(ph,hFitK,hFitChi,PINK,'series-h-fit');

// heatmaps
drawHeat('hm1',fSasValues,.45);
drawHeat('hm2',fCupcValues,.5);
drawHeat('hm3',fFoilValues,1.2);
drawBar('cb1',.45,155);
drawBar('cb2',.5,154);
drawBar('cb3',1.2,155);
barAxis('colorbar-axis-cu-sas',311.7,315,470,.45,fSasBarTicks,fSasBarLabels);
barAxis('colorbar-axis-cupc',482.5,486,640,.5,fCupcBarTicks,fCupcBarLabels);
barAxis('colorbar-axis-cu-foil',656.5,660,815,1.2,fFoilBarTicks,fFoilBarLabels);

vmark(pf1,fMarkerK,1,2,'#fff',1.8,'6 3','marker-f1');
vmark(pf2,fMarkerK,1,3,'#fff',1.8,'6 3','marker-f2');
vmark(pf3,fMarkerK,1,3,'#fff',1.8,'6 3','marker-f3-a');
vmark(pf3,fMarkerK2,1,2.4,'#fff',1.8,'6 3','marker-f3-b');

[pa,pb,pc,pd,pe,pg,ph,pf1,pf2,pf3].forEach(axes);

// tags drawn last so they sit above the heatmaps and axes
function tag(name,x,y,w,h,tx,ty,label){
  const g=el('g',{});
  
  
  el('rect',{x:x,y:y,width:w,height:h,fill:'#000'},g);
  const t=el('text',{x:tx,y:ty,'font-size':14,style:'fill:#fff'},g);
  t.textContent=label;
}
tag('tag-cu-sas',911.7,314,110.6,18.7,913.5,328,'Cu-SAs@N-CNS');
tag('tag-cupc',984.3,485.7,38,18.7,986,500,'CuPc');
tag('tag-cu-foil',978.3,657.7,44,18.7,980.7,672,'Cu foil');
</script>
</body>
</html>
